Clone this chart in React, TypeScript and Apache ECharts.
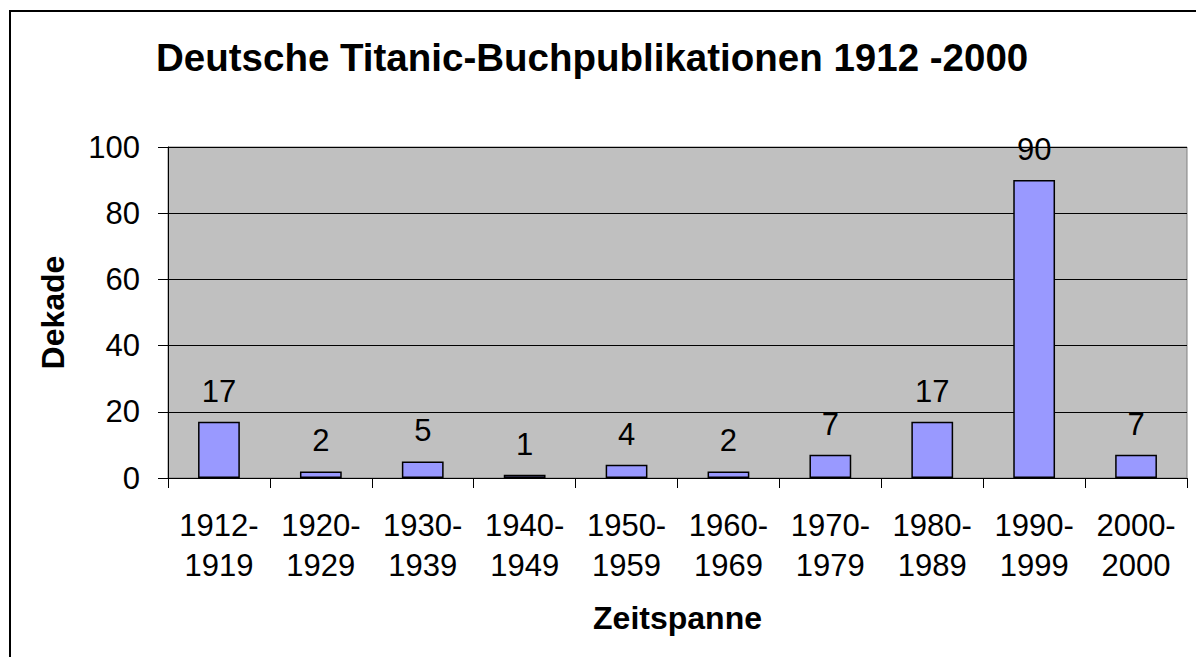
import React, { useEffect, useRef } from "react";
import * as echarts from "echarts";

const chartTitle = "Deutsche Titanic-Buchpublikationen 1912 -2000";
const categories = [
  "1912-\n1919",
  "1920-\n1929",
  "1930-\n1939",
  "1940-\n1949",
  "1950-\n1959",
  "1960-\n1969",
  "1970-\n1979",
  "1980-\n1989",
  "1990-\n1999",
  "2000-\n2000",
];
const values = [17, 2, 5, 1, 4, 2, 7, 17, 90, 7];
const yAxisName = "Dekade";
const xAxisName = "Zeitspanne";
const yMin = 0;
const yMax = 100;
const yInterval = 20;

const FONT = "'Liberation Sans', Arial, Helvetica, sans-serif";

export default function App() {
  const ref = useRef<HTMLDivElement>(null);
  useEffect(() => {
    if (!ref.current) return;
    const chart = echarts.init(ref.current, null, { renderer: "svg" });
    chart.setOption({
      animation: false,
      backgroundColor: "#ffffff",
      textStyle: { fontFamily: FONT },
      title: {
        text: chartTitle,
        left: 156,
        top: 38,
        padding: 0,
        textStyle: { fontFamily: FONT, fontSize: 38.5, fontWeight: "bold", color: "#000" },
      },
      graphic: [
        {
          type: "rect",
          shape: { x: 10, y: 11, width: 1300, height: 800 },
          style: { fill: "none", stroke: "#000", lineWidth: 2 },
          silent: true,
          z: 100,
        },
      ],
      grid: {
        left: 168,
        top: 147,
        width: 1019,
        height: 331,
        show: true,
        backgroundColor: "#C0C0C0",
        borderColor: "#808080",
        borderWidth: 1,
      },
      xAxis: {
        type: "category",
        data: categories,
        boundaryGap: true,
        name: xAxisName,
        nameLocation: "middle",
        nameGap: 124,
        nameTextStyle: { fontFamily: FONT, fontSize: 32, fontWeight: "bold", color: "#000" },
        axisLine: { show: true, lineStyle: { color: "#000", width: 1 } },
        axisTick: { show: true, length: 10, alignWithLabel: false, lineStyle: { color: "#000" } },
        axisLabel: {
          fontFamily: FONT,
          fontSize: 31,
          lineHeight: 40,
          color: "#000",
          margin: 27,
          interval: 0,
        },
        splitLine: { show: false },
      },
      yAxis: {
        type: "value",
        min: yMin,
        max: yMax,
        interval: yInterval,
        name: yAxisName,
        nameLocation: "middle",
        nameRotate: 90,
        nameGap: 99,
        nameTextStyle: { fontFamily: FONT, fontSize: 32, fontWeight: "bold", color: "#000" },
        axisLine: { show: true, lineStyle: { color: "#000", width: 1 } },
        axisTick: { show: true, length: 10, lineStyle: { color: "#000" } },
        axisLabel: { fontFamily: FONT, fontSize: 31, color: "#000", margin: 28 },
        splitLine: { show: true, lineStyle: { color: "#000", width: 1 } },
      },
      series: [
        {
          type: "bar",
          data: values,
          barWidth: "41%",
          itemStyle: { color: "#9999FF", borderColor: "#000", borderWidth: 1.5 },
          label: {
            show: true,
            position: "top",
            distance: 15,
            fontFamily: FONT,
            fontSize: 31,
            color: "#000",
          },
        },
      ],
    });
    return () => chart.dispose();
  }, []);
  return (
    <div
      ref={ref}
      style={{ position: "absolute", left: 0, top: 0, width: 1196, height: 657 }}
    />
  );
}
